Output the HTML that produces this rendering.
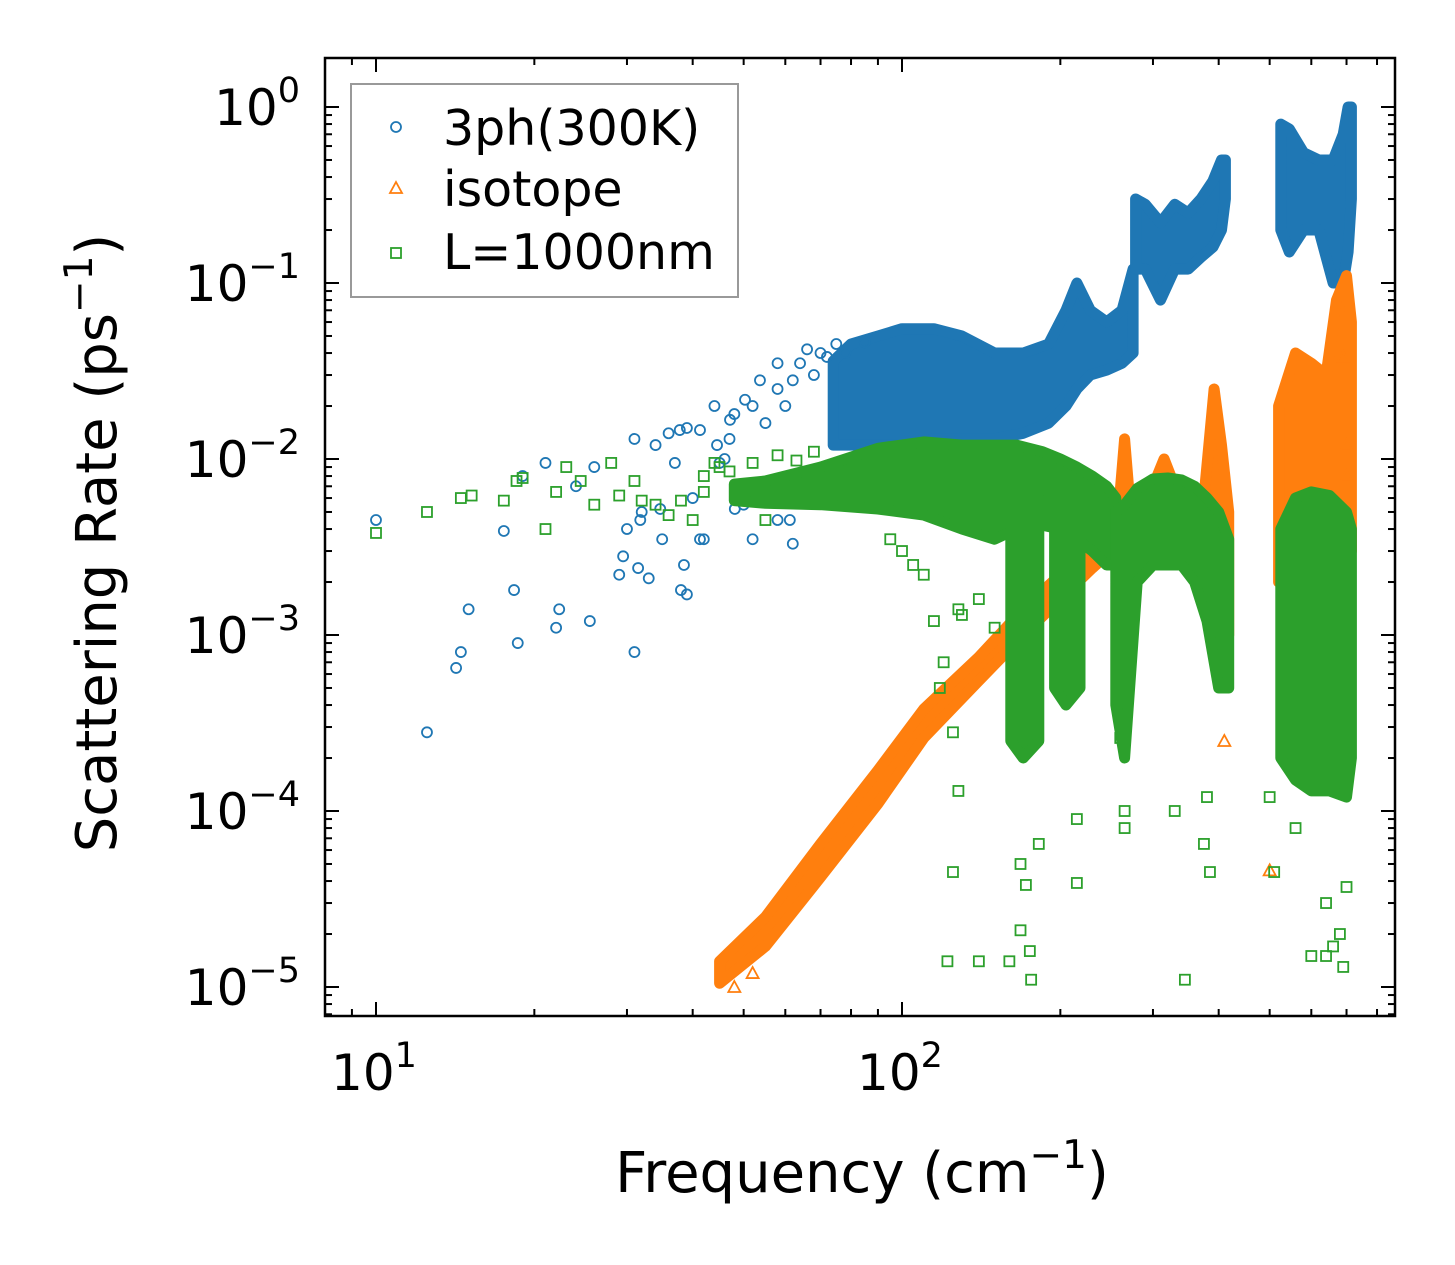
<!DOCTYPE html>
<html><head><meta charset="utf-8"><style>
html,body{margin:0;padding:0;background:#fff;}
svg{display:block;font-family:"DejaVu Sans","Liberation Sans",sans-serif;}
</style></head><body>
<svg id="chart" width="1455" height="1265" viewBox="0 0 1455 1265" xmlns="http://www.w3.org/2000/svg">
<rect width="1455" height="1265" fill="#fff"/>
<g id="marks"></g>
<g id="axes"></g>
<g id="legend">
<rect x="351" y="84" width="387" height="213" fill="#fff" fill-opacity="0.8" stroke="#999" stroke-width="2"/>
<circle cx="396" cy="127" r="5" fill="none" stroke="#1f77b4" stroke-width="1.8"/>
<text x="443" y="145" font-size="49">3ph(300K)</text>
<polygon points="396,182 402,193 390,193" fill="none" stroke="#ff7f0e" stroke-width="1.8"/>
<text x="443" y="206" font-size="49">isotope</text>
<rect x="391" y="248" width="10" height="10" fill="none" stroke="#2ca02c" stroke-width="1.8"/>
<text x="443" y="269" font-size="49">L=1000nm</text>
</g>
</svg>
<script>
// ---- data (frequency cm^-1, rate ps^-1) ----
const blueBandF = [[74,80,90,100,115,130,150,170,190,205,215,228,245,262,275],[278,290,310,330,350,370,390,405,412],[525,545,580,620,660,690,705,715]];
const blueBandHi = [[0.036,0.045,0.05,0.055,0.055,0.05,0.04,0.04,0.045,0.07,0.1,0.07,0.06,0.07,0.12],[0.3,0.28,0.22,0.28,0.25,0.3,0.38,0.5,0.5],[0.8,0.75,0.55,0.5,0.5,0.7,1.0,1.0]];
const blueBandLo = [[0.012,0.012,0.012,0.012,0.013,0.013,0.013,0.014,0.016,0.02,0.025,0.03,0.032,0.035,0.04],[0.12,0.12,0.08,0.12,0.12,0.14,0.16,0.2,0.3],[0.2,0.15,0.2,0.2,0.1,0.1,0.15,0.3]];
const bluePtsF = [10,12.5,14.2,14.5,15,17.5,18.3,18.6,19,21,22,22.3,24,25.5,26,29,29.5,30,31,31.5,32,33,34,35,37,38,38.5,39,40,42,44,47,50,52,55,58,62,31,36,39,45,48,52,58,64,70,75,50.3,58,62,66,41.3,37.8,47.1,53.7,31.8,34.7,41.3,48.1,51.4,56.1,61.2,44.5,68,72,78,85,55,60,46];
const bluePtsR = [0.0045,0.00028,0.00065,0.0008,0.0014,0.0039,0.0018,0.0009,0.008,0.0095,0.0011,0.0014,0.007,0.0012,0.009,0.0022,0.0028,0.004,0.0008,0.0024,0.005,0.0021,0.012,0.0035,0.0095,0.0018,0.0025,0.0017,0.006,0.0035,0.02,0.013,0.0055,0.0035,0.006,0.0045,0.0033,0.013,0.014,0.015,0.0095,0.018,0.02,0.025,0.035,0.04,0.045,0.0217,0.035,0.028,0.042,0.0146,0.0146,0.0167,0.028,0.0045,0.0052,0.0035,0.0052,0.0067,0.0058,0.0045,0.012,0.03,0.038,0.04,0.046,0.016,0.02,0.01];

const orangeBandF = [[45,55,70,90,110,140,170,200,230,250,262],[258,265,272],[280,300,315,330,350],[375,392,405,418],[520,560,600,640,670,700,715]];
const orangeBandHi = [[1.4e-5,2.5e-5,6.5e-5,1.7e-4,3.8e-4,7.5e-4,1.4e-3,2.2e-3,3.3e-3,4e-3,0.004],[0.005,0.013,0.005],[0.005,0.007,0.01,0.007,0.006],[0.006,0.025,0.012,0.005],[0.02,0.04,0.035,0.03,0.08,0.11,0.06]];
const orangeBandLo = [[1.05e-5,1.7e-5,4.2e-5,1.1e-4,2.6e-4,5.5e-4,1.0e-3,1.6e-3,2.4e-3,3e-3,3e-3],[0.001,0.001,0.001],[0.003,0.003,0.003,0.003,0.003],[0.002,0.002,0.002,0.001],[0.002,0.003,0.003,0.003,0.003,0.003,0.003]];
const orangePtsF = [500,410,700,700,690,48,52];
const orangePtsR = [4.6e-5,2.5e-4,0.008,0.012,0.038,1.0e-5,1.2e-5];

const greenBandF = [[48,55,70,90,110,130,150,165,185,200,215,230,245,255],[161,170,182],[195,205,218],[255,265,280,300,320,340,360,380,400,418],[525,560,600,650,700,715]];
const greenBandHi = [[0.0072,0.0075,0.009,0.0115,0.0125,0.012,0.012,0.012,0.011,0.01,0.009,0.008,0.007,0.006],[0.006,0.006,0.006],[0.005,0.005,0.005],[0.005,0.0055,0.0068,0.0077,0.0078,0.0076,0.007,0.006,0.005,0.0035],[0.004,0.006,0.0065,0.0062,0.005,0.004]];
const greenBandLo = [[0.0058,0.0056,0.0055,0.0052,0.0048,0.004,0.0035,0.004,0.0042,0.004,0.0035,0.003,0.0025,0.0025],[2.5e-4,2e-4,2.5e-4],[5e-4,4e-4,5e-4],[0.0004,0.0002,0.002,0.0025,0.0025,0.0025,0.002,0.0012,0.0005,0.0005],[0.0002,0.00015,0.00013,0.00013,0.00012,0.0002]];
const greenPtsF = [10,12.5,14.5,15.2,17.5,18.5,19,21,22,23,24.5,26,28,29,31,32,34,36,38,40,42,44,125,128,125,122,140,160,175,176,168,172,182,168,215,215,265,265,330,345,380,385,375,500,510,560,600,640,640,660,680,690,700,120,118,115,140,128,130,150,260,45,52,58,63,68,42,47,55,95,100,105,110];
const greenPtsR = [0.0038,0.005,0.006,0.0062,0.0058,0.0075,0.0078,0.004,0.0065,0.009,0.0075,0.0055,0.0095,0.0062,0.0075,0.0058,0.0055,0.0048,0.0058,0.0045,0.008,0.0095,0.00028,0.00013,4.5e-5,1.4e-5,1.4e-5,1.4e-5,1.6e-5,1.1e-5,2.1e-5,3.8e-5,6.5e-5,5e-5,3.9e-5,9e-5,1e-4,8e-5,1e-4,1.1e-5,0.00012,4.5e-5,6.5e-5,0.00012,4.5e-5,8e-5,1.5e-5,3e-5,1.5e-5,1.7e-5,2e-5,1.3e-5,3.7e-5,0.0007,0.0005,0.0012,0.0016,0.0014,0.0013,0.0011,0.00026,0.009,0.0095,0.0105,0.0098,0.011,0.0065,0.0085,0.0045,0.0035,0.003,0.0025,0.0022];

const xTickVals = [10,100];
const xTickLabels = ["1","2"];
const yTickVals = [1,0.1,0.01,0.001,1e-4,1e-5];
const yTickLabels = ["0","\u22121","\u22122","\u22123","\u22124","\u22125"];

// ---- axes ----
const L=325,R=1395,T=58,B=1016;
function X(f){return 376+526*(Math.log10(f)-1);}
function Y(r){return 107-176*Math.log10(r);}
const NS="http://www.w3.org/2000/svg";
function mk(tag,attrs,parent){const e=document.createElementNS(NS,tag);for(const k in attrs)e.setAttribute(k,attrs[k]);parent.appendChild(e);return e;}
const marks=document.getElementById('marks');
const axes=document.getElementById('axes');
const cp=mk('clipPath',{id:'clip'},marks);
mk('rect',{x:L,y:T,width:R-L,height:B-T},cp);
const g=mk('g',{'clip-path':'url(#clip)'},marks);



function drawBands(Fs,His,Los,color,name){
  Fs.forEach((F,i)=>{
    let pts=[];
    for(let j=0;j<F.length;j++)pts.push(X(F[j]).toFixed(1)+','+Y(His[i][j]).toFixed(1));
    for(let j=F.length-1;j>=0;j--)pts.push(X(F[j]).toFixed(1)+','+Y(Los[i][j]).toFixed(1));
    const p=mk('polygon',{points:pts.join(' '),fill:color,stroke:color,'stroke-width':11,'stroke-linejoin':'round'},g);
    
    
  });
}
function drawPts(F,Rs,color,shape,name){
  F.forEach((f,i)=>{
    const x=X(f),y=Y(Rs[i]);let e;
    if(shape==='c')e=mk('circle',{cx:x,cy:y,r:5,fill:'none',stroke:color,'stroke-width':1.8},g);
    else if(shape==='s')e=mk('rect',{x:x-5,y:y-5,width:10,height:10,fill:'none',stroke:color,'stroke-width':1.8},g);
    else e=mk('polygon',{points:`${x},${y-6} ${x+6},${y+5} ${x-6},${y+5}`,fill:'none',stroke:color,'stroke-width':1.8},g);
    
    
  });
}
drawBands(blueBandF,blueBandHi,blueBandLo,'#1f77b4','3ph');
drawPts(bluePtsF,bluePtsR,'#1f77b4','c','3ph');
drawBands(orangeBandF,orangeBandHi,orangeBandLo,'#ff7f0e','isotope');
drawPts(orangePtsF,orangePtsR,'#ff7f0e','t','isotope');
drawBands(greenBandF,greenBandHi,greenBandLo,'#2ca02c','boundary');
drawPts(greenPtsF,greenPtsR,'#2ca02c','s','boundary');

const fr=mk('rect',{x:L,y:T,width:R-L,height:B-T,fill:'none',stroke:'#000','stroke-width':2.5},axes);


for(let d=0;d<3;d++){for(let m=1;m<10;m++){const f=m*Math.pow(10,d);const x=X(f);if(x<L||x>R)continue;const len=m===1?14:7;
 const t1=mk('line',{x1:x,x2:x,y1:B,y2:B-len,stroke:'#000','stroke-width':2},axes);
 
 
 const t2=mk('line',{x1:x,x2:x,y1:T,y2:T+len,stroke:'#000','stroke-width':2},axes);
 
 }}
for(let d=-6;d<1;d++){for(let m=1;m<10;m++){const r=m*Math.pow(10,d);const y=Y(r);if(y<T||y>B)continue;const len=m===1?14:7;
 const t1=mk('line',{x1:L,x2:L+len,y1:y,y2:y,stroke:'#000','stroke-width':2},axes);
 
 
 const t2=mk('line',{x1:R,x2:R-len,y1:y,y2:y,stroke:'#000','stroke-width':2},axes);
 
 }}
xTickVals.forEach((v,i)=>{
 const t=mk('text',{x:X(v)-2,y:1090,'font-size':50,'text-anchor':'middle'},axes);
 t.innerHTML='10<tspan dy="-23" font-size="35">'+xTickLabels[i]+'</tspan>';
 
 
});
yTickVals.forEach((v,i)=>{
 const t=mk('text',{x:300,y:Y(v)+18,'font-size':50,'text-anchor':'end'},axes);
 t.innerHTML='10<tspan dy="-23" font-size="35">'+yTickLabels[i]+'</tspan>';
 
 
});
const xt=mk('text',{x:862,y:1192,'font-size':56,'text-anchor':'middle'},axes);
xt.innerHTML='Frequency (cm<tspan dy="-24" font-size="39">\u22121</tspan><tspan dy="24">)</tspan>';


const yt=mk('text',{x:0,y:0,'font-size':56,'text-anchor':'middle',transform:'translate(116,543) rotate(-90)'},axes);
yt.innerHTML='Scattering Rate (ps<tspan dy="-24" font-size="39">\u22121</tspan><tspan dy="24">)</tspan>';


</script>
</body></html>
